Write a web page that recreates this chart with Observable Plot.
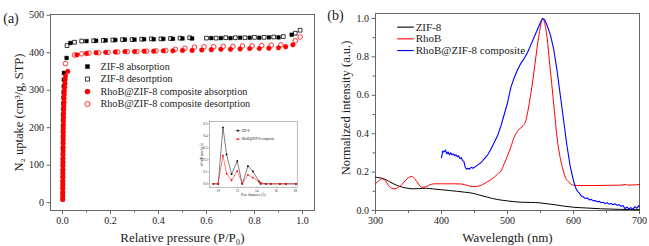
<!DOCTYPE html>
<html><head><meta charset="utf-8">
<script src="https://cdn.jsdelivr.net/npm/d3@7"></script>
<script src="https://cdn.jsdelivr.net/npm/@observablehq/plot@0.6"></script>
<style>
html,body{margin:0;padding:0;background:#fff;}
#wrap{position:relative;width:649px;height:246px;overflow:hidden;background:#fff;}
#wrap svg{position:absolute;overflow:visible;font-family:'Liberation Serif','Times New Roman',serif !important;}
#wrap svg text{font-family:'Liberation Serif','Times New Roman',serif !important;}
</style></head><body><div id="wrap"></div>
<script>
// ---------- Panel (a): N2 isotherms ----------
const zifAdsP = [0.0006,0.0007,0.0008,0.0009,0.001,0.0011,0.0012,0.0013,0.0014,0.0015,0.0016,0.0018,0.002,0.0022,0.0025,0.0028,0.0032,0.0036,0.004,0.0045,0.005,0.0055,0.006,
  0.017,0.033,0.10,0.14,0.18,0.22,0.26,0.30,0.34,0.38,0.42,0.46,0.50,0.54,0.62,0.66,0.70,0.74,0.78,0.82,0.86,0.90,0.955];
const zifAdsU = [10,25,40,55,70,85,100,115,130,145,160,175,190,205,220,235,250,265,280,295,310,328,346,
  386,426,431,432,433,434,435,435,436,436,437,437,438,438,439,439,439,440,440,440,441,441,448];
const zifDesP = [0.99,0.97,0.92,0.88,0.84,0.80,0.76,0.72,0.68,0.64,0.60,0.53,0.49,0.45,0.41,0.37,0.33,0.29,0.25,0.21,0.17,0.13,0.08,0.05,0.019];
const zifDesU = [460,452,443,442,441,441,440,440,440,439,439,440,439,438,437,437,436,435,435,434,433,432,431,428,419];
const compAdsP = [0.001,0.001,0.0012,0.0012,0.0014,0.0014,0.0016,0.0016,0.0018,0.0018,0.002,0.002,0.0022,0.0024,0.0026,0.0028,0.003,0.0032,0.0034,0.0036,0.0038,0.004,0.0043,0.0046,0.005,0.0055,0.006,0.0066,0.0073,0.008,0.009,0.010,0.011,0.0125,
  0.022,0.06,0.10,0.14,0.18,0.22,0.26,0.30,0.34,0.38,0.42,0.46,0.50,0.54,0.58,0.62,0.66,0.70,0.74,0.78,0.82,0.86,0.90,0.93,0.96];
const compAdsU = [8,18,28,38,48,58,68,78,88,98,108,118,128,138,148,158,168,178,188,198,208,218,228,238,248,258,268,278,288,298,308,318,328,338,
  350,394,398,400,401,402,403,403,404,404,405,405,406,406,407,408,409,409,410,411,411,412,413,416,421];
const compDesP = [0.99,0.97,0.91,0.87,0.83,0.79,0.75,0.71,0.67,0.63,0.59,0.55,0.51,0.47,0.43,0.39,0.35,0.31,0.27,0.23,0.19,0.15,0.11,0.08,0.05,0.012];
const compDesU = [442,432,421,420,419,418,418,417,417,416,416,415,412,409,406,405,404,403,403,402,401,400,399,397,394,371];
const legendA = ["ZIF-8 absorption","ZIF-8 desortption","RhoB@ZIF-8 composite absorption","RhoB@ZIF-8 composite desortption"];
const xTicksA = [0,0.2,0.4,0.6,0.8,1.0];
const xMinorA = [0.1,0.3,0.5,0.7,0.9];
const yTicksA = [0,100,200,300,400,500];

// ---------- Inset: pore size distribution ----------
const poreD = [9.5,10.0,10.5,10.87,11.39,11.98,12.5,13.09,13.6,14.24,14.4,14.94,15.46,16.4,17.03,18.07];
const zifPSD = [0,0,0.47,0.245,0.08,0.19,0,0.148,0.104,0.02,0,0,0,0,0,0];
const compPSD = [0,0,0.235,0.086,0.03,0.108,0,0.075,0.052,0.02,0.008,0,0,0,0,0];
const legendInset = ["ZIF-8","RhoB@ZIF-8 composite"];
const xTicksInset = [10,12,14,16,18];
const yTicksInset = [0,0.1,0.2,0.3,0.4,0.5];

// ---------- Panel (b): emission spectra ----------
const zifWl = [300,313,320,333,345,356,366,376,388,400,412,424,436,447,458,470,485,500,510,520,535,549,560,572,585,600,620,641,670,700];
const zifInt = [0.173,0.165,0.152,0.13,0.118,0.113,0.114,0.116,0.112,0.108,0.104,0.1,0.095,0.09,0.08,0.069,0.057,0.05,0.046,0.043,0.042,0.04,0.035,0.03,0.023,0.017,0.013,0.009,0.006,0.004];
const rhoWl = [300,305,310,315,320,325,330,335,340,345,350,355,360,365,370,375,380,385,390,400,410,420,430,440,447,455,462,470,478,485,490,495,500,505,510,516,524,528,531,535,539,543,547,550,553,556,560,564,567,571,575,579,583,588,593,600,610,630,650,670,680,682,690,700];
const rhoInt = [0.14,0.155,0.165,0.155,0.13,0.115,0.113,0.122,0.135,0.155,0.172,0.177,0.163,0.138,0.121,0.122,0.13,0.137,0.139,0.139,0.139,0.139,0.138,0.13,0.125,0.126,0.135,0.15,0.168,0.19,0.205,0.243,0.285,0.33,0.38,0.417,0.443,0.47,0.52,0.6,0.694,0.8,0.9,0.96,0.998,0.98,0.9,0.76,0.66,0.52,0.382,0.29,0.226,0.17,0.147,0.132,0.13,0.13,0.131,0.132,0.135,0.132,0.133,0.135];
const compWl = [400,402,404,406,408,410,412,414,416,418,420,422,424,426,428,430,432,434,436,438,440,442,445,448,452,456,460,465,470,475,480,485,490,495,500,505,510,515,520,525,530,535,540,545,550,553,556,560,565,570,575,580,585,590,595,600,603,606,609,612,615,618,621,624,627,630,633,636,639,642,645,648,651,654,657,660,663,666,669,672,675,678,681,684,687,690,693,696,699,700];
const compInt = [0.275,0.31,0.305,0.315,0.295,0.305,0.29,0.3,0.29,0.295,0.285,0.29,0.28,0.285,0.27,0.275,0.26,0.255,0.225,0.215,0.22,0.215,0.225,0.22,0.23,0.24,0.25,0.27,0.29,0.32,0.355,0.39,0.44,0.5,0.56,0.64,0.69,0.73,0.765,0.79,0.82,0.86,0.9,0.94,0.98,1.0,0.995,0.965,0.915,0.84,0.73,0.6,0.47,0.34,0.23,0.155,0.12,0.1,0.09,0.075,0.07,0.062,0.065,0.055,0.058,0.05,0.052,0.045,0.048,0.04,0.043,0.036,0.04,0.033,0.036,0.03,0.035,0.027,0.03,0.022,0.026,0.01,0.018,0.008,0.015,0.006,0.02,0.012,0.025,0.02];
const legendB = ["ZIF-8","RhoB","RhoB@ZIF-8 composite"];
const xTicksB = [300,400,500,600,700];
const xMinorB = [350,450,550,650];
const yTicksB = [0,0.2,0.4,0.6,0.8,1.0];
const yMinorB = [0.1,0.3,0.5,0.7,0.9];

// ---------- helpers ----------
const FONT = "Liberation Serif";
const rows = (xs, ys) => xs.map((x, i) => ({x, y: ys[i]}));
const BLACK = "#000", RED = "#ff0000", BLUE = "#0000ff", FRAME = "#666", TXT = "#222";
const wrap = document.getElementById("wrap");
function place(svg, left, top) { svg.style.left = left + "px"; svg.style.top = top + "px"; wrap.appendChild(svg); }
const lbl = (t, o) => Plot.text([t], {text: d => d, textAnchor: "middle", lineAnchor: "middle", fill: TXT, fontFamily: FONT, ...o});

// ---------- Panel (a) ----------
const sZ = {symbol: "square", r: 2.1};
const styleA = [
  {...sZ, fill: BLACK, stroke: BLACK, strokeWidth: 0.4},
  {...sZ, fill: "none", stroke: BLACK, strokeWidth: 0.8},
  {symbol: "circle", r: 2.4, fill: RED, stroke: RED, strokeWidth: 0.3},
  {symbol: "circle", r: 2.3, fill: "none", stroke: RED, strokeWidth: 0.8}
];
const seriesA = [rows(zifAdsP, zifAdsU), rows(zifDesP, zifDesU), rows(compAdsP, compAdsU), rows(compDesP, compDesU)];
const legX = 0.104, legTX = 0.158, legY0 = 363, legDY = 33.3;

const left = Plot.plot({
  width: 325, height: 246,
  marginLeft: 50, marginRight: 11, marginTop: 14, marginBottom: 36,
  style: {fontFamily: FONT, fontSize: "10px", color: TXT, background: "transparent"},
  x: {domain: [-0.05, 1.05], label: null},
  y: {domain: [-21, 502], label: null},
  marks: [
    Plot.frame({stroke: FRAME, strokeWidth: 1}),
    Plot.axisX(xTicksA, {tickSize: 4, tickPadding: 2, tickFormat: d3.format(".1f"), stroke: FRAME, fontFamily: FONT, label: null}),
    Plot.axisX(xMinorA, {tickSize: 2.5, tickFormat: () => "", stroke: FRAME, label: null}),
    Plot.axisY(yTicksA, {tickSize: 3.5, tickPadding: 3, stroke: FRAME, fontFamily: FONT, label: null}),
    ...seriesA.map((d, i) => Plot.dot(d, {x: "x", y: "y", ...styleA[i]})),
    ...legendA.map((t, i) => Plot.dot([t], {x: () => legX, y: () => legY0 - i * legDY, ...styleA[i], r: styleA[i].r + 0.2})),
    Plot.text(legendA, {x: () => legTX, y: (d, i) => legY0 - i * legDY, text: d => d, textAnchor: "start", lineAnchor: "middle", fontSize: 10.2, fontFamily: FONT, fill: TXT}),
    lbl("Relative pressure (P/P\u2080)", {frameAnchor: "bottom", dy: 27, fontSize: 13}),
    lbl("N\u2082 uptake (cm\u00B3/g, STP)", {frameAnchor: "left", dx: -32, rotate: -90, fontSize: 12.5}),
    lbl("(a)", {frameAnchor: "top-left", dx: -39.5, dy: 4, fontSize: 14})
  ]
});
place(left, 0, 0);

// ---------- Inset ----------
const insLegX1 = 11.79, insLegX2 = 12.31, insLegTX = 12.45, insLegY0 = 0.444, insLegDY = 0.071;
const inset = Plot.plot({
  width: 100, height: 85,
  marginLeft: 9, marginRight: 3.3, marginTop: 6, marginBottom: 13.3,
  style: {fontFamily: FONT, fontSize: "3.4px", color: TXT, background: "transparent"},
  x: {domain: [9.1, 18.2], label: null},
  y: {domain: [-0.028, 0.52], label: null},
  marks: [
    Plot.frame({stroke: "#777", strokeWidth: 0.5}),
    Plot.axisX(xTicksInset, {tickSize: 1.2, tickPadding: 0.8, stroke: "#777", strokeWidth: 0.5, fontFamily: FONT, label: null}),
    Plot.axisY(yTicksInset, {tickSize: 1.2, tickPadding: 0.8, tickFormat: d3.format(".1f"), stroke: "#777", strokeWidth: 0.5, fontFamily: FONT, label: null}),
    Plot.line(rows(poreD, zifPSD), {x: "x", y: "y", stroke: BLACK, strokeWidth: 0.5}),
    Plot.dot(rows(poreD, zifPSD), {x: "x", y: "y", symbol: "square", r: 0.9, fill: BLACK}),
    Plot.line(rows(poreD, compPSD), {x: "x", y: "y", stroke: RED, strokeWidth: 0.5}),
    Plot.dot(rows(poreD, compPSD), {x: "x", y: "y", symbol: "circle", r: 0.9, fill: RED}),
    Plot.link(legendInset, {x1: () => insLegX1, x2: () => insLegX2, y1: (d, i) => insLegY0 - i * insLegDY, y2: (d, i) => insLegY0 - i * insLegDY, stroke: (d, i) => i ? RED : BLACK, strokeWidth: 0.5}),
    Plot.dot([legendInset[0]], {x: () => (insLegX1 + insLegX2) / 2, y: () => insLegY0, symbol: "square", r: 0.9, fill: BLACK}),
    Plot.dot([legendInset[1]], {x: () => (insLegX1 + insLegX2) / 2, y: () => insLegY0 - insLegDY, symbol: "circle", r: 0.9, fill: RED}),
    Plot.text(legendInset, {x: () => insLegTX, y: (d, i) => insLegY0 - i * insLegDY, text: d => d, textAnchor: "start", lineAnchor: "middle", fontSize: 3.3, fontFamily: FONT, fill: TXT}),
    lbl("Pore diameter (\u00C5)", {frameAnchor: "bottom", dy: 7.8, fontSize: 3.4}),
    lbl("dV/dD (cm\u00B3/g\u00B7\u00C5)", {frameAnchor: "left", dx: -7.2, rotate: -90, fontSize: 3.3})
  ]
});
place(inset, 200, 115);

// ---------- Panel (b) ----------
const legBX1 = 332.9, legBX2 = 358, legBTX = 360.8, legBY0 = 0.955, legBDY = 0.061;
const colorsB = [BLACK, RED, BLUE];
const right = Plot.plot({
  width: 324, height: 246,
  marginLeft: 50, marginRight: 10, marginTop: 13, marginBottom: 36,
  style: {fontFamily: FONT, fontSize: "10px", color: TXT, background: "transparent"},
  x: {domain: [300, 700], label: null},
  y: {domain: [0, 1.026], label: null},
  marks: [
    Plot.frame({stroke: FRAME, strokeWidth: 1}),
    Plot.axisX(xTicksB, {tickSize: 4, tickPadding: 2, stroke: FRAME, fontFamily: FONT, label: null}),
    Plot.axisX(xMinorB, {tickSize: 3, tickFormat: () => "", stroke: FRAME, label: null}),
    Plot.axisY(yTicksB, {tickSize: 3.5, tickPadding: 3, tickFormat: d3.format(".1f"), stroke: FRAME, fontFamily: FONT, label: null}),
    Plot.axisY(yMinorB, {tickSize: 2.5, tickFormat: () => "", stroke: FRAME, label: null}),
    Plot.line(rows(zifWl, zifInt), {x: "x", y: "y", stroke: BLACK, strokeWidth: 1, curve: "monotone-x"}),
    Plot.line(rows(rhoWl, rhoInt), {x: "x", y: "y", stroke: RED, strokeWidth: 1, curve: "monotone-x"}),
    Plot.line(rows(compWl, compInt), {x: "x", y: "y", stroke: BLUE, strokeWidth: 1.1}),
    Plot.link(legendB, {x1: () => legBX1, x2: () => legBX2, y1: (d, i) => legBY0 - i * legBDY, y2: (d, i) => legBY0 - i * legBDY, stroke: (d, i) => colorsB[i], strokeWidth: 1.1}),
    Plot.text(legendB, {x: () => legBTX, y: (d, i) => legBY0 - i * legBDY, text: d => d, textAnchor: "start", lineAnchor: "middle", fontSize: 11, fontFamily: FONT, fill: TXT}),
    lbl("Wavelength (nm)", {frameAnchor: "bottom", dy: 27, fontSize: 13}),
    lbl("Normalized intensity (a.u.)", {frameAnchor: "left", dx: -30, dy: -4, rotate: -90, fontSize: 12.5}),
    lbl("(b)", {frameAnchor: "top-left", dx: -40, dy: 2, fontSize: 14})
  ]
});
place(right, 325, 0);
</script>
</body></html>
